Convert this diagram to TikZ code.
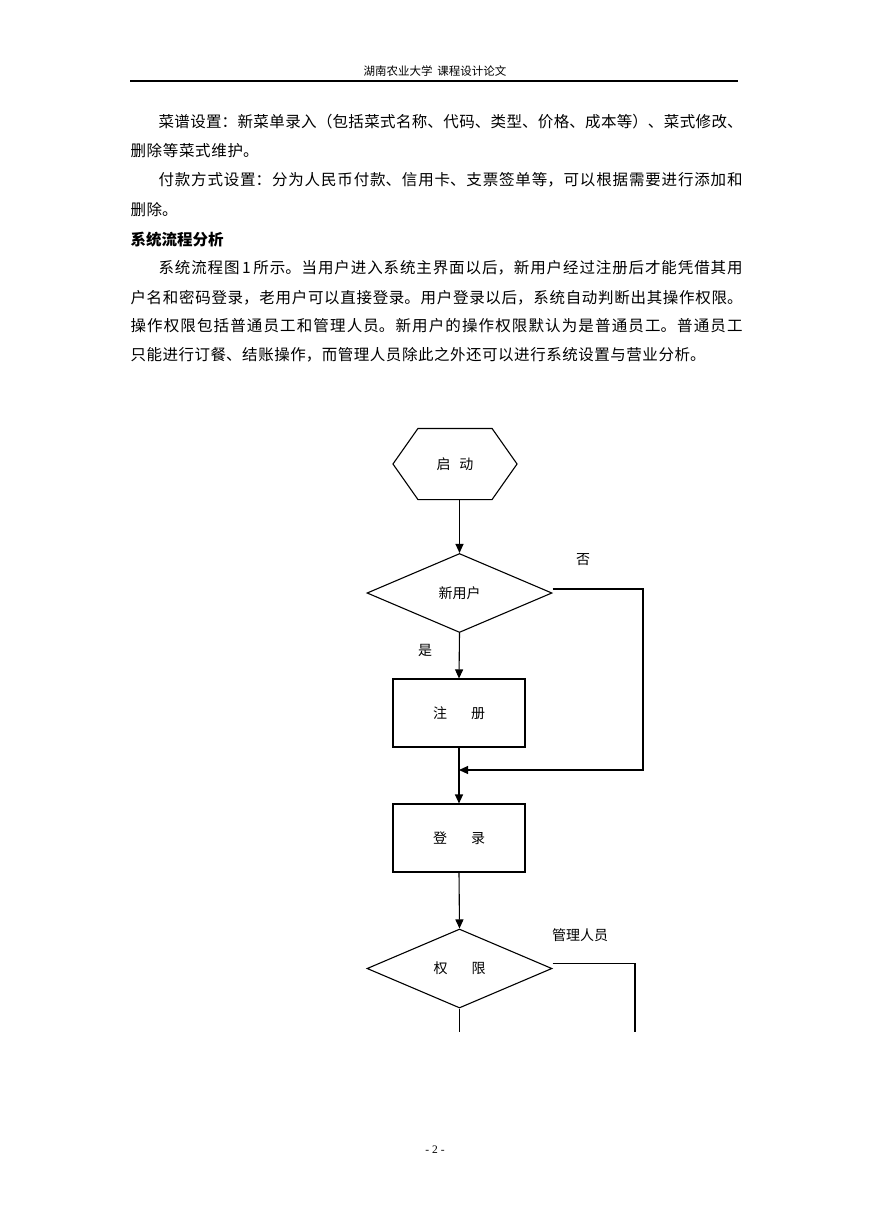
\documentclass[tikz,border=0pt]{standalone}
\usepackage{fontspec}
\setmainfont{Liberation Serif}
\newfontfamily\cjk{Noto Sans CJK SC}
\usetikzlibrary{arrows.meta,shapes.geometric}
\XeTeXlinebreaklocale "zh"
\XeTeXlinebreakskip=0pt plus 4pt minus 1pt

\begin{document}
\begin{tikzpicture}[x=1pt,y=-1pt,line width=1.1pt,>={Triangle[length=9pt,width=8pt]},
 body/.style={anchor=west,inner sep=0pt,font=\cjk\fontsize{15.5}{18}\selectfont},
 chart/.style={inner sep=0pt,font=\cjk\fontsize{14}{16}\selectfont},
 procbox/.style={chart,draw,minimum width=132pt,minimum height=68pt},
 decision/.style={chart,draw,diamond,minimum width=185pt,minimum height=79pt}]
\fill[white] (0,0) rectangle (869,1228);
\useasboundingbox (0,0) rectangle (869,1228);
% page header and number
\node[chart,font=\cjk\fontsize{11.5}{13}\selectfont] (header) at (435,71) {湖南农业大学\hspace{5pt}课程设计论文};
\draw[line width=1.3pt] (130,81) coordinate (rulel) -- (738,81) coordinate (ruler);
\node[inner sep=0pt,font=\fontsize{11.5}{13}\selectfont] (pageno) at (435,1150) {- 2 -};
% text lines, each one justified to its own width
\foreach \x/\y/\w/\t [count=\i] in {
 158/122/584/{菜谱设置：新菜单录入（包括菜式名称、代码、类型、价格、成本等）、菜式修改、},
 130/151/128/{删除等菜式维护。},
 158/180/584/{付款方式设置：分为人民币付款、信用卡、支票签单等，可以根据需要进行添加和},
 130/210/47/{删除。},
 158/268/584/{系统流程图\,1\,所示。当用户进入系统主界面以后，新用户经过注册后才能凭借其用},
 130/298/612/{户名和密码登录，老用户可以直接登录。用户登录以后，系统自动判断出其操作权限。},
 130/326/612/{操作权限包括普通员工和管理人员。新用户的操作权限默认为是普通员工。普通员工},
 130/355/575/{只能进行订餐、结账操作，而管理人员除此之外还可以进行系统设置与营业分析。}}
 \node[body] (line\i) at (\x,\y) {\parbox{\w pt}{\noindent\parfillskip=0pt\relax\t}};
\node[body,font=\cjk\bfseries\fontsize{15.5}{18}\selectfont] (head) at (130,240) {系统流程分析};
% flow chart
\node[chart,minimum width=73pt,minimum height=70pt] (start) at (455,464) {启\hspace{9pt}动};
\draw (start.north west) -- (start.north east) -- ([xshift=25pt]start.east)
 -- (start.south east) -- (start.south west) -- ([xshift=-25pt]start.west) -- cycle;
\node[decision] (newuser) at (459.5,593) {新用户};
\node[procbox] (reg) at (459,713) {注\hspace{24pt}册};
\node[procbox] (login) at (459,838) {登\hspace{24pt}录};
\node[decision] (right) at (459.5,968.5) {权\hspace{24pt}限};
\node[chart] (no) at (583,560) {否};
\node[chart] (yes) at (425,650) {是};
\node[chart] (admin) at (580,935) {管理人员};
\coordinate (nobend) at (643,770);
\coordinate (admcut) at (635,1032);
\draw[->] (newuser.north |- start.south) -- (newuser.north);
\draw[->] (newuser.south) -- (reg.north);
\draw[->] ([yshift=4pt]newuser.east) -| (nobend) -- (reg.south |- nobend);
\draw[->] (reg.south) -- (login.north);
\draw[->] (login.south) -- (right.north);
\draw ([yshift=5pt]right.east) -| (admcut);
\draw (right.south) -- (right.south |- admcut);
\end{tikzpicture}
\end{document}
